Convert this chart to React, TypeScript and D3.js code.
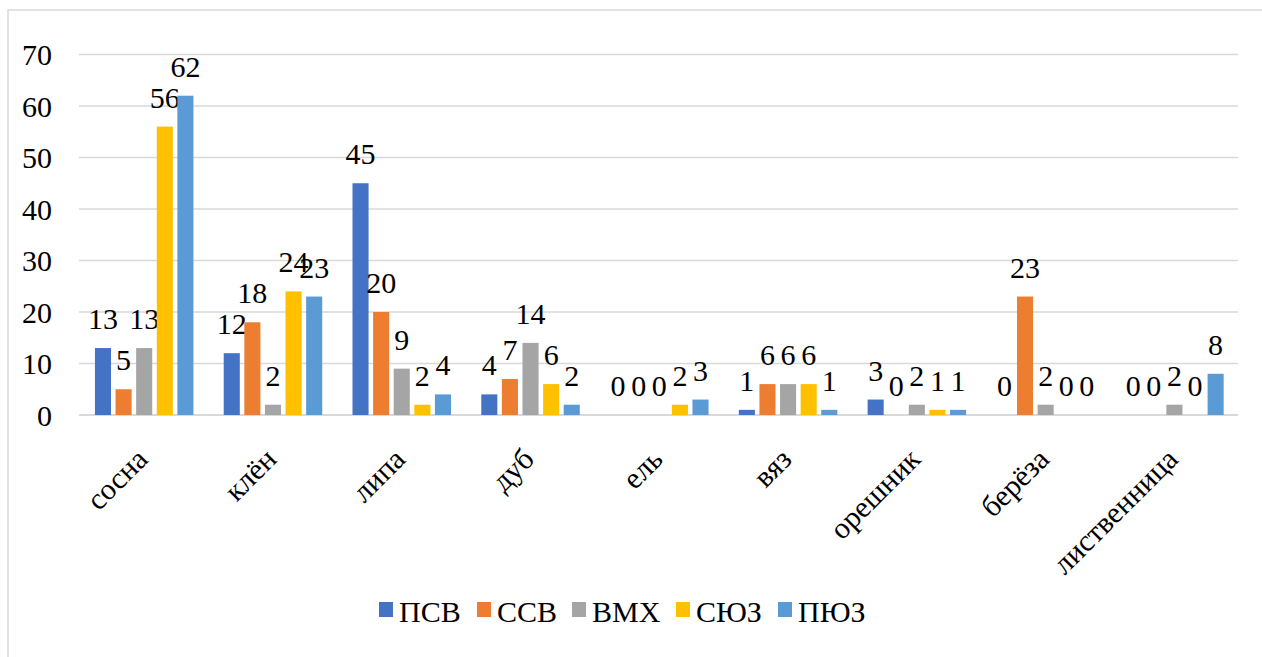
import React from "react";
import * as d3 from "d3";

const categories = ["сосна", "клён", "липа", "дуб", "ель", "вяз", "орешник", "берёза", "лиственница"];
const seriesNames = ["ПСВ", "ССВ", "ВМХ", "СЮЗ", "ПЮЗ"];
const seriesColors = ["#4472C4", "#ED7D31", "#A5A5A5", "#FFC000", "#5B9BD5"];
const psv = [13, 12, 45, 4, 0, 1, 3, 0, 0];
const ssv = [5, 18, 20, 7, 0, 6, 0, 23, 0];
const vmh = [13, 2, 9, 14, 0, 6, 2, 2, 2];
const syuz = [56, 24, 2, 6, 2, 6, 1, 0, 0];
const pyuz = [62, 23, 4, 2, 3, 1, 1, 0, 8];
const yTicks = [0, 10, 20, 30, 40, 50, 60, 70];

const seriesValues = [psv, ssv, vmh, syuz, pyuz];

const W = 1262;
const H = 657;
const FAMILY = "Liberation Serif";

export default function App() {
  const left = 79, right = 1238, top = 54.5, bottom = 415;
  const x = d3.scaleBand<string>().domain(categories).range([left, right]).paddingInner(0).paddingOuter(0);
  const y = d3.scaleLinear().domain([0, 70]).range([bottom, top]);
  const inner = d3.scaleBand<number>().domain(d3.range(seriesNames.length)).range([0, 98.5]).paddingInner(0.22).paddingOuter(0);
  const groupOffset = (x.bandwidth() - 98.5) / 2 + 0.8;

  const legendX = [379, 477, 572, 676, 778];

  return (
    <svg width={W} height={H} fontFamily={FAMILY} fontSize={30} style={{ display: "block", position: "absolute", left: 0, top: 0, fontFamily: FAMILY }}>
      <rect x={8} y={10} width={W + 20} height={H + 20} fill="#fff" stroke="#D9D9D9" strokeWidth={1.5} />
      {yTicks.map((t) => (
        <g key={t}>
          <line x1={left} x2={right} y1={y(t)} y2={y(t)} stroke="#D9D9D9" strokeWidth={t === 0 ? 2 : 1.5} />
          <text x={52} y={y(t) + 10.5} textAnchor="end" fontFamily={FAMILY} fontSize={30} fill="#000">{t}</text>
        </g>
      ))}
      {categories.map((c, ci) => (
        <g key={c}>
          {seriesValues.map((vals, si) => {
            const bx = (x(c) as number) + groupOffset + (inner(si) as number);
            const bw = inner.bandwidth();
            const v = vals[ci];
            return (
              <g key={si}>
                {v > 0 && (
                  <rect x={bx} y={y(v)} width={bw} height={y(0) - y(v)} fill={seriesColors[si]} />
                )}
                <text x={bx + bw / 2} y={y(v) - 19} textAnchor="middle" fontFamily={FAMILY} fontSize={30} fill="#000">{v}</text>
              </g>
            );
          })}
          <text
            transform={`translate(${(x(c) as number) + x.bandwidth() / 2 + 6},${461}) rotate(-45)`}
            textAnchor="end"
            fontFamily={FAMILY}
            fontSize={30}
            fill="#000"
          >
            {c}
          </text>
        </g>
      ))}
      {seriesNames.map((s, i) => (
        <g key={s}>
          <rect x={legendX[i]} y={602} width={14} height={15} fill={seriesColors[i]} />
          <text x={legendX[i] + 20} y={621.5} fontFamily={FAMILY} fontSize={30} fill="#000">{s}</text>
        </g>
      ))}
    </svg>
  );
}
